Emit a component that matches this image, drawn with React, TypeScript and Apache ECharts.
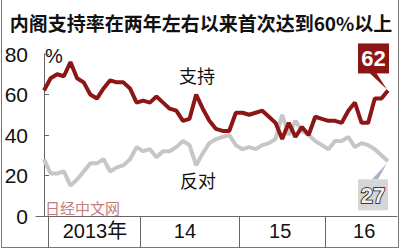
import React, { useEffect, useRef } from "react";
import * as echarts from "echarts";

const titleText = "内阁支持率在两年左右以来首次达到60%以上";
const supportName = "支持";
const opposeName = "反对";
const watermark = "日经中文网";
// approval (support) and disapproval (oppose), one value per poll, Dec 2012 – Sep 2016
const support = [62,68,70,69,76,68,66,60,58,63,67,66,66,63,56,57,56,59,56,53,52,47,48,60,53,47,43,42,42,51,51,50,51,52,49,46,38,46,39,44,40,49,48,47,47,46,52,56,46,46,58,58,62];
const oppose = [28,21,21,22,15,18,22,26,26,28,22,24,25,28,34,32,33,29,32,32,34,37,35,25,31,36,38,39,40,35,33,34,33,35,36,38,50,40,47,42,40,37,35,33,37,37,39,34,36,35,33,30,27];
const yMax = 80;
const yStep = 20;
const yearLabels = ["2013年", "14", "15", "16"];
const yearLabelAt = [7.7, 21.3, 35.7, 48.4];
const yearStartAt = [0.6, 14.5, 29.5, 42.5];
const xMin = -1.21;
const xMax = 53.36;

const RED = "#8c1616";
const GREY = "#c6c6c6";
const LATIN = "'Liberation Sans', Arial, 'Noto Sans CJK SC', sans-serif";
const CJK = "'Noto Sans CJK SC', 'Liberation Sans', sans-serif";

export default function App() {
  const ref = useRef<HTMLDivElement>(null);
  useEffect(() => {
    if (!ref.current) return;
    const chart = echarts.init(ref.current, undefined, { renderer: "svg" });
    const xs = support.map((_, i) => i);
    const option: any = {
      animation: false,
      backgroundColor: "#ffffff",
      grid: { left: 36, right: 3, top: 54, bottom: 34 },
      xAxis: [
        {
          type: "value", min: xMin, max: xMax,
          axisLine: { show: true, onZero: false, lineStyle: { color: "#666", width: 1 } },
          axisTick: { show: false }, axisLabel: { show: false }, splitLine: { show: false },
        },
        {
          type: "value", min: xMin, max: xMax, position: "bottom",
          axisLine: { show: false },
          axisTick: { show: true, customValues: yearStartAt, length: 32, inside: false, lineStyle: { color: "#666", width: 1 } },
          axisLabel: {
            show: true, customValues: yearLabelAt, margin: 5, fontSize: 20, color: "#111", fontFamily: LATIN,
            formatter: (v: number) => {
              const k = yearLabelAt.findIndex((p) => Math.abs(p - v) < 0.01);
              return k >= 0 ? yearLabels[k] : "";
            },
          },
          splitLine: { show: false },
        },
      ],
      yAxis: {
        type: "value", min: 0, max: yMax, interval: yStep,
        axisLine: { show: true, lineStyle: { color: "#666", width: 1 } },
        axisTick: { show: true, inside: true, length: 5, lineStyle: { color: "#666" } },
        axisLabel: { fontSize: 21, color: "#111", margin: 8, fontFamily: LATIN },
        splitLine: { show: false },
      },
      series: [
        {
          name: opposeName, type: "line", xAxisIndex: 0, symbol: "none",
          data: xs.map((x, i) => [x, oppose[i]]),
          lineStyle: { color: GREY, width: 4 },
        },
        {
          name: supportName, type: "line", xAxisIndex: 0, symbol: "none",
          data: xs.map((x, i) => [x, support[i]]),
          lineStyle: { color: RED, width: 4 },
        },
      ],
    };
    chart.setOption(option);

    const last = xs.length - 1;
    const pS = chart.convertToPixel({ xAxisIndex: 0, yAxisIndex: 0 }, [last, support[last]]) as number[];
    const pO = chart.convertToPixel({ xAxisIndex: 0, yAxisIndex: 0 }, [last, oppose[last]]) as number[];

    chart.setOption({
      graphic: [
        { type: "polyline", shape: { points: [[1.5, 0], [1.5, 247.5], [398.5, 247.5], [398.5, 0]] }, style: { stroke: "#777", fill: "none", lineWidth: 1 } },
        { type: "text", x: 201, y: 22, style: { text: titleText, font: `bold 19px ${CJK}`, fill: "#111", align: "center", verticalAlign: "middle" } },
        { type: "text", x: 45, y: 56, style: { text: "%", font: `20px ${LATIN}`, fill: "#111", align: "left", verticalAlign: "middle" } },
        { type: "text", x: 197, y: 75, style: { text: supportName, font: `18px ${CJK}`, fill: "#111", align: "center", verticalAlign: "middle" } },
        { type: "text", x: 198, y: 180, style: { text: opposeName, font: `18px ${CJK}`, fill: "#111", align: "center", verticalAlign: "middle" } },
        { type: "text", x: 45, y: 207, style: { text: watermark, font: `15px ${CJK}`, fill: "#c47c7c", align: "left", verticalAlign: "middle" } },
        // support callout
        { type: "polygon", shape: { points: [[pS[0] - 19, pS[1] - 18], [pS[0] - 12, pS[1] - 18], [pS[0] - 1, pS[1] - 1]] }, style: { fill: RED } },
        { type: "rect", shape: { x: pS[0] - 30, y: pS[1] - 47, width: 31, height: 30 }, style: { fill: RED } },
        { type: "text", x: pS[0] - 14.5, y: pS[1] - 32, style: { text: String(support[last]), font: `bold 22px ${LATIN}`, fill: "#fff", align: "center", verticalAlign: "middle" } },
        // oppose callout
        { type: "polygon", shape: { points: [[pO[0] - 16, pO[1] + 18], [pO[0] - 10, pO[1] + 18], [pO[0] - 1, pO[1] + 2]] }, style: { fill: "#aab3c6" } },
        { type: "rect", shape: { x: pO[0] - 30, y: pO[1] + 18, width: 30, height: 31 }, style: { fill: "#d6d6d6" } },
        { type: "text", x: pO[0] - 15, y: pO[1] + 34, style: { text: String(oppose[last]), font: `bold 22px ${LATIN}`, fill: "#eeeeee", stroke: "#111", lineWidth: 1.6, align: "center", verticalAlign: "middle" } },
      ],
    });
    return () => chart.dispose();
  }, []);
  return <div ref={ref} style={{ position: "fixed", left: 0, top: 0, width: 400, height: 250 }} />;
}
